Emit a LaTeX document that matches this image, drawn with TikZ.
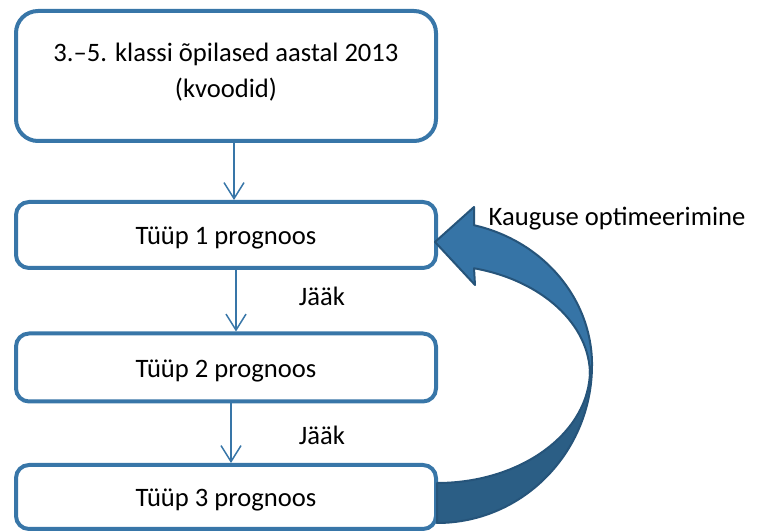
\documentclass[tikz,border=0pt]{standalone}
\usepackage{fontspec}
\setmainfont{Carlito}
\usetikzlibrary{arrows.meta}
\definecolor{boxblue}{RGB}{56,118,168}
\definecolor{facelight}{RGB}{54,116,166}
\definecolor{facedark}{RGB}{43,94,133}
\definecolor{edgedark}{RGB}{38,84,122}

\begin{document}
\begin{tikzpicture}[
  x=1pt,y=1pt,
  font=\fontsize{26.6}{36}\selectfont,
  stagebox/.style={draw=boxblue,line width=4pt,fill=white,rounded corners=13pt,
    minimum width=420pt,text height=20pt,text depth=0pt,inner sep=0pt},
  flow/.style={draw=boxblue,line width=1.5pt,-{Straight Barb[length=16pt,width=20pt]}},
  note/.style={inner sep=0pt,anchor=base}
]
  \useasboundingbox (0,0) rectangle (762,532);
  % boxes
  \node[stagebox,rounded corners=22pt,minimum height=130pt,text height=,text depth=] (top) at (226,456) {};
  \node[align=center,inner sep=0pt] (toptext) at (226,460) {3.–5. klassi õpilased aastal 2013\\(kvoodid)};
  \node[stagebox,minimum height=66pt] (t1) at (226,297) {Tüüp 1 prognoos};
  \node[stagebox,minimum height=68pt] (t2) at (226,164.5) {Tüüp 2 prognoos};
  \node[stagebox,minimum height=64pt] (t3) at (226,35) {Tüüp 3 prognoos};
  % arrows between boxes
  \draw[flow] ([xshift=8pt]top.south) -- ([xshift=8pt]t1.north);
  \draw[flow] ([xshift=10pt]t1.south) -- ([xshift=10pt]t2.north);
  \draw[flow] ([xshift=5pt]t2.south) -- ([xshift=5pt]t3.north);
  \node[note] (jaak1) at (322,226) {Jääk};
  \node[note] (jaak2) at (322,87) {Jääk};
  % curved arrow back to the first forecast
  \filldraw[fill=facedark,draw=edgedark,line width=2pt,line join=round]
    (592,167) arc[x radius=155,y radius=158,start angle=0,end angle=-90]
    -- (437,49) arc[x radius=153,y radius=113,start angle=-90,end angle=0] -- cycle;
  \filldraw[fill=facelight,draw=edgedark,line width=2pt,line join=round]
    (435,290) -- (474,325) -- (474,306.8)
    arc[x radius=155,y radius=144,start angle=76.2,end angle=0]
    -- (590,157) arc[x radius=153,y radius=110,start angle=0,end angle=76]
    -- (475,247) -- cycle;
  \node[note] (optlabel) at (617,306) {Kauguse optimeerimine};
\end{tikzpicture}
\end{document}
